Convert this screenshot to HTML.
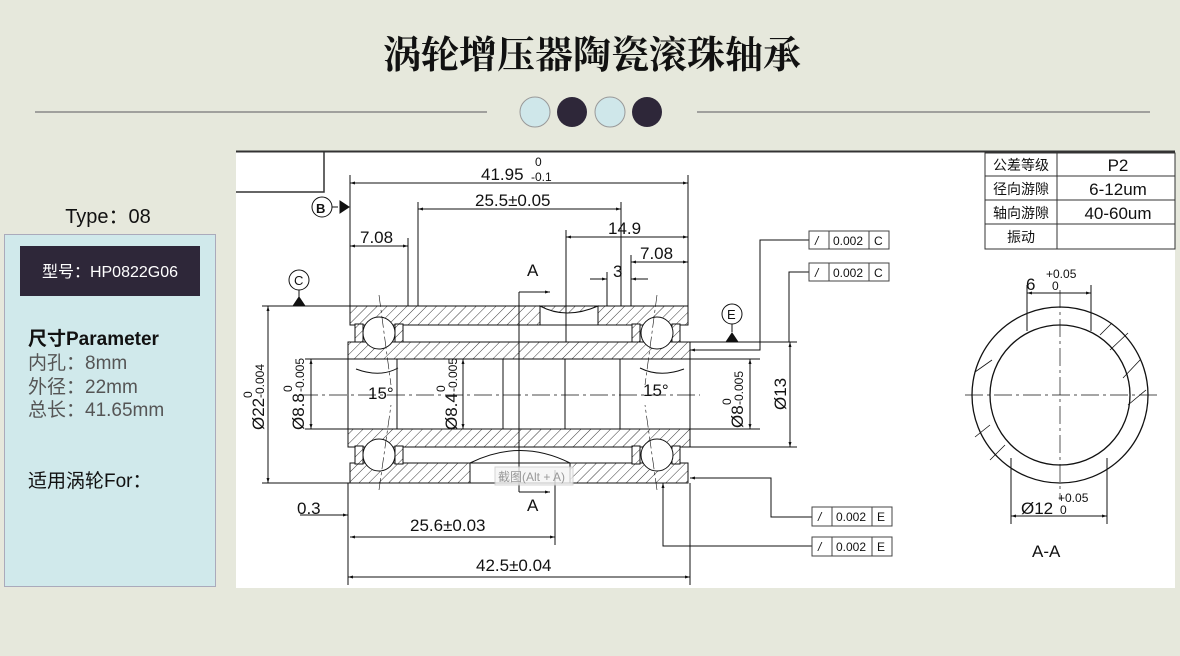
<!DOCTYPE html>
<html><head><meta charset="utf-8"><style>
html,body{margin:0;padding:0;width:1180px;height:656px;background:#e6e8dc;overflow:hidden;font-family:"Liberation Sans","Noto Sans CJK SC",sans-serif}
</style></head><body>
<svg width="1180" height="656" viewBox="0 0 1180 656" xmlns="http://www.w3.org/2000/svg" style="position:absolute;left:0;top:0">
<defs>
<pattern id="h" width="7" height="7" patternUnits="userSpaceOnUse" patternTransform="rotate(45)"><rect width="7" height="7" fill="#fff"/><line x1="0" y1="0" x2="0" y2="7" stroke="#222" stroke-width="0.9"/></pattern>
<marker id="a" viewBox="0 0 10 10" refX="10" refY="5" markerWidth="9" markerHeight="5" orient="auto-start-reverse"><path d="M0,2 L10,5 L0,8 z" fill="#111"/></marker>
</defs>
<!-- header -->
<text x="592" y="68" text-anchor="middle" font-family="'Noto Serif CJK SC',serif" font-weight="bold" font-size="38" fill="#111">涡轮增压器陶瓷滚珠轴承</text>
<line x1="35" y1="112" x2="487" y2="112" stroke="#888" stroke-width="1.5"/>
<line x1="697" y1="112" x2="1150" y2="112" stroke="#888" stroke-width="1.5"/>
<circle cx="535" cy="112" r="15" fill="#cfe7ea" stroke="#999"/>
<circle cx="572" cy="112" r="15" fill="#2e2739"/>
<circle cx="610" cy="112" r="15" fill="#cfe7ea" stroke="#999"/>
<circle cx="647" cy="112" r="15" fill="#2e2739"/>
<!-- left panel -->
<text x="108" y="223" text-anchor="middle" font-size="20" fill="#111">Type：08</text>
<rect x="4.5" y="234.5" width="211" height="352" fill="#d0e9eb" stroke="#aab"/>
<rect x="20" y="246" width="180" height="50" fill="#2e2739"/>
<text x="110" y="277" text-anchor="middle" font-size="16" fill="#fff">型号：HP0822G06</text>
<text x="28" y="345" font-size="19" font-weight="bold" fill="#111">尺寸Parameter</text>
<text x="28" y="369" font-size="19" fill="#555">内孔：8mm</text>
<text x="28" y="393" font-size="19" fill="#555">外径：22mm</text>
<text x="28" y="416" font-size="19" fill="#555">总长：41.65mm</text>
<text x="28" y="487" font-size="19" fill="#111">适用涡轮For：</text>
<!-- drawing area -->
<rect x="236" y="151" width="939" height="437" fill="#fff"/>
<line x1="236" y1="151.5" x2="1175" y2="151.5" stroke="#333" stroke-width="2"/>
<path d="M236,192 H324 V151" fill="none" stroke="#333" stroke-width="1.5"/>
<g stroke="#111" stroke-width="1" fill="none" font-size="17" >
<!-- bearing body -->
<rect x="350" y="306" width="338" height="19" fill="url(#h)"/>
<rect x="350" y="463" width="338" height="20" fill="url(#h)"/>
<rect x="348" y="342" width="342" height="17" fill="url(#h)"/>
<rect x="348" y="429" width="342" height="18" fill="url(#h)"/>
<path d="M540,306 Q566,320 598,306 L598,325 L540,325 Z" fill="#fff"/>
<path d="M470,483 L470,463 Q520,438 570,463 L570,483 Z" fill="#fff"/>
<rect x="348" y="359" width="342" height="70" fill="#fff"/>
<line x1="350" y1="325" x2="688" y2="325"/><line x1="350" y1="463" x2="688" y2="463"/>
<line x1="397" y1="359" x2="397" y2="429"/><line x1="620" y1="359" x2="620" y2="429"/>
<line x1="503" y1="359" x2="503" y2="429"/><line x1="565" y1="359" x2="565" y2="429"/>
<line x1="519" y1="292" x2="519" y2="455"/><path d="M519,292 H550" marker-end="url(#a)"/><path d="M519,492 H550" marker-end="url(#a)"/><line x1="519" y1="455" x2="519" y2="492"/>
<rect x="355" y="324" width="8" height="18" fill="url(#h)"/><rect x="395" y="324" width="8" height="18" fill="url(#h)"/>
<rect x="672" y="324" width="8" height="18" fill="url(#h)"/><rect x="632" y="324" width="8" height="18" fill="url(#h)"/>
<rect x="355" y="446" width="8" height="18" fill="url(#h)"/><rect x="395" y="446" width="8" height="18" fill="url(#h)"/>
<rect x="672" y="446" width="8" height="18" fill="url(#h)"/><rect x="632" y="446" width="8" height="18" fill="url(#h)"/>
<circle cx="379" cy="333" r="16" fill="#fff"/><circle cx="657" cy="333" r="16" fill="#fff"/>
<circle cx="379" cy="455" r="16" fill="#fff"/><circle cx="657" cy="455" r="16" fill="#fff"/>
<line x1="300" y1="395" x2="700" y2="395" stroke-dasharray="18,4,3,4" stroke-width="0.7"/>
<line x1="379" y1="295" x2="391" y2="385" stroke-dasharray="12,3,3,3" stroke-width="0.6"/>
<line x1="657" y1="295" x2="645" y2="385" stroke-dasharray="12,3,3,3" stroke-width="0.6"/>
<line x1="379" y1="490" x2="391" y2="405" stroke-dasharray="12,3,3,3" stroke-width="0.6"/>
<line x1="657" y1="490" x2="645" y2="405" stroke-dasharray="12,3,3,3" stroke-width="0.6"/>
<path d="M356,369 Q380,378 398,368"/><path d="M640,368 Q660,378 684,369"/>
<!-- dims -->
<line x1="350" y1="175" x2="350" y2="306"/><line x1="688" y1="175" x2="688" y2="306"/>
<path d="M350,183 H688" marker-start="url(#a)" marker-end="url(#a)"/>
<line x1="418" y1="202" x2="418" y2="306"/><line x1="621" y1="202" x2="621" y2="306"/>
<path d="M418,209 H621" marker-start="url(#a)" marker-end="url(#a)"/>
<line x1="566" y1="230" x2="566" y2="342"/><path d="M566,237 H688" marker-start="url(#a)" marker-end="url(#a)"/>
<line x1="408" y1="238" x2="408" y2="306"/><path d="M350,246 H408" marker-start="url(#a)" marker-end="url(#a)"/>
<line x1="631" y1="255" x2="631" y2="306"/><path d="M631,262 H688" marker-start="url(#a)" marker-end="url(#a)"/>
<line x1="607" y1="272" x2="607" y2="306"/><path d="M590,279 H607" marker-end="url(#a)"/><path d="M648,279 H631" marker-end="url(#a)"/>
<line x1="262" y1="306" x2="350" y2="306"/><line x1="262" y1="483" x2="350" y2="483"/>
<path d="M268,306 V483" marker-start="url(#a)" marker-end="url(#a)"/>
<line x1="305" y1="359" x2="348" y2="359"/><line x1="305" y1="429" x2="348" y2="429"/>
<path d="M311,359 V429" marker-start="url(#a)" marker-end="url(#a)"/>
<path d="M463,359 V429" marker-start="url(#a)" marker-end="url(#a)"/>
<line x1="690" y1="359" x2="760" y2="359"/><line x1="690" y1="429" x2="760" y2="429"/>
<path d="M750,359 V429" marker-start="url(#a)" marker-end="url(#a)"/>
<line x1="690" y1="342" x2="797" y2="342"/><line x1="690" y1="447" x2="797" y2="447"/>
<path d="M790,342 V447" marker-start="url(#a)" marker-end="url(#a)"/>
<line x1="348" y1="483" x2="348" y2="585"/><line x1="690" y1="483" x2="690" y2="585"/>
<line x1="555" y1="470" x2="555" y2="545"/>
<path d="M300,515 H348" marker-end="url(#a)"/>
<path d="M350,537 H555" marker-start="url(#a)" marker-end="url(#a)"/>
<path d="M348,577 H690" marker-start="url(#a)" marker-end="url(#a)"/>
<!-- datums -->
<circle cx="322" cy="207" r="10"/><path d="M332,207 H338"/><path d="M340,201 L349,207 L340,213Z" fill="#111"/>
<circle cx="299" cy="280" r="10"/><line x1="299" y1="290" x2="299" y2="297"/><path d="M293,306 L299,297 L305,306Z" fill="#111"/>
<circle cx="732" cy="314" r="10"/><line x1="732" y1="324" x2="732" y2="332"/><path d="M726,342 L732,333 L738,342Z" fill="#111"/>
<!-- leaders -->
<path d="M809,240 H760 V350 H690" marker-end="url(#a)"/>
<path d="M809,272 H789 V342"/>
<path d="M812,517 H771 V478 H690" marker-end="url(#a)"/>
<path d="M812,546 H663 V483" marker-end="url(#a)"/>
<!-- tolerance frames -->
<g fill="#fff" stroke="#444">
<rect x="809" y="231" width="80" height="18"/><line x1="829" y1="231" x2="829" y2="249"/><line x1="869" y1="231" x2="869" y2="249"/>
<rect x="809" y="263" width="80" height="18"/><line x1="829" y1="263" x2="829" y2="281"/><line x1="869" y1="263" x2="869" y2="281"/>
<rect x="812" y="507" width="80" height="19"/><line x1="832" y1="507" x2="832" y2="526"/><line x1="872" y1="507" x2="872" y2="526"/>
<rect x="812" y="537" width="80" height="19"/><line x1="832" y1="537" x2="832" y2="556"/><line x1="872" y1="537" x2="872" y2="556"/>
</g>
<!-- table -->
<g stroke="#333">
<rect x="985" y="153" width="190" height="96" fill="#fff"/>
<line x1="1057" y1="153" x2="1057" y2="249"/>
<line x1="985" y1="176" x2="1175" y2="176"/><line x1="985" y1="200" x2="1175" y2="200"/><line x1="985" y1="224" x2="1175" y2="224"/>
</g>
<!-- A-A -->
<circle cx="1060" cy="395" r="88" stroke-width="1.3"/>
<circle cx="1060" cy="395" r="70" stroke-width="1.3"/>
<line x1="965" y1="395" x2="1158" y2="395" stroke-dasharray="18,4,3,4" stroke-width="0.7"/>
<line x1="1060" y1="290" x2="1060" y2="500" stroke-dasharray="18,4,3,4" stroke-width="0.7"/>
<line x1="1027" y1="312" x2="1027" y2="331"/><line x1="1091" y1="312" x2="1091" y2="331"/>
<line x1="1011" y1="458" x2="1011" y2="480"/><line x1="1107" y1="458" x2="1107" y2="480"/>
<line x1="1027" y1="285" x2="1027" y2="312"/><line x1="1091" y1="285" x2="1091" y2="312"/>
<path d="M1027,293 H1091" marker-start="url(#a)" marker-end="url(#a)"/>
<line x1="1011" y1="480" x2="1011" y2="524"/><line x1="1107" y1="480" x2="1107" y2="524"/>
<path d="M1011,516 H1107" marker-start="url(#a)" marker-end="url(#a)"/>
<g stroke-width="0.8"><line x1="1100" y1="335" x2="1112" y2="323"/><line x1="1110" y1="350" x2="1128" y2="333"/><line x1="1123" y1="378" x2="1140" y2="360"/><line x1="1128" y1="405" x2="1146" y2="390"/><line x1="975" y1="372" x2="992" y2="360"/><line x1="990" y1="425" x2="975" y2="437"/><line x1="990" y1="460" x2="1005" y2="445"/></g>
</g>
<!-- dimension text -->
<g font-size="17" fill="#111">
<text x="481" y="180">41.95</text><text x="535" y="166" font-size="12">0</text><text x="531" y="181" font-size="12">-0.1</text>
<text x="475" y="206">25.5±0.05</text>
<text x="608" y="234">14.9</text>
<text x="360" y="243">7.08</text>
<text x="640" y="259">7.08</text>
<text x="613" y="277">3</text>
<text x="527" y="276">A</text>
<text x="527" y="511">A</text>
<text x="297" y="514">0.3</text>
<text x="410" y="531">25.6±0.03</text>
<text x="476" y="571">42.5±0.04</text>
<text x="368" y="399">15°</text>
<text x="643" y="396">15°</text>
<text x="1026" y="290">6</text><text x="1046" y="278" font-size="12">+0.05</text><text x="1052" y="290" font-size="12">0</text>
<text x="1021" y="514">Ø12</text><text x="1058" y="502" font-size="12">+0.05</text><text x="1060" y="514" font-size="12">0</text>
<text x="1032" y="557">A-A</text>
<text transform="translate(264,430) rotate(-90)">Ø22</text><text transform="translate(252,398) rotate(-90)" font-size="12">0</text><text transform="translate(264,398) rotate(-90)" font-size="12">-0.004</text>
<text transform="translate(304,430) rotate(-90)">Ø8.8</text><text transform="translate(292,392) rotate(-90)" font-size="12">0</text><text transform="translate(304,392) rotate(-90)" font-size="12">-0.005</text>
<text transform="translate(457,430) rotate(-90)">Ø8.4</text><text transform="translate(445,392) rotate(-90)" font-size="12">0</text><text transform="translate(457,392) rotate(-90)" font-size="12">-0.005</text>
<text transform="translate(743,428) rotate(-90)">Ø8</text><text transform="translate(731,405) rotate(-90)" font-size="12">0</text><text transform="translate(743,405) rotate(-90)" font-size="12">-0.005</text>
<text transform="translate(786,410) rotate(-90)">Ø13</text>
<text x="316" y="213" font-size="13" font-weight="bold">B</text>
<text x="294" y="285" font-size="13">C</text>
<text x="727" y="319" font-size="13">E</text>
</g>
<g font-size="12" fill="#111">
<text x="815" y="245" font-style="italic">/</text><text x="833" y="245">0.002</text><text x="874" y="245">C</text>
<text x="815" y="277" font-style="italic">/</text><text x="833" y="277">0.002</text><text x="874" y="277">C</text>
<text x="818" y="521" font-style="italic">/</text><text x="836" y="521">0.002</text><text x="877" y="521">E</text>
<text x="818" y="551" font-style="italic">/</text><text x="836" y="551">0.002</text><text x="877" y="551">E</text>
</g>
<g font-size="14" fill="#111" text-anchor="middle">
<text x="1021" y="170">公差等级</text><text x="1118" y="171" font-size="17">P2</text>
<text x="1021" y="194">径向游隙</text><text x="1118" y="195" font-size="17">6-12um</text>
<text x="1021" y="218">轴向游隙</text><text x="1118" y="219" font-size="17">40-60um</text>
<text x="1021" y="242">振动</text>
</g>
<rect x="495" y="467" width="78" height="18" fill="#f4f4f4" stroke="#ccc" opacity="0.8"/>
<text x="498" y="481" font-size="12" fill="#999">截图(Alt + A)</text>
</svg>
</body></html>
